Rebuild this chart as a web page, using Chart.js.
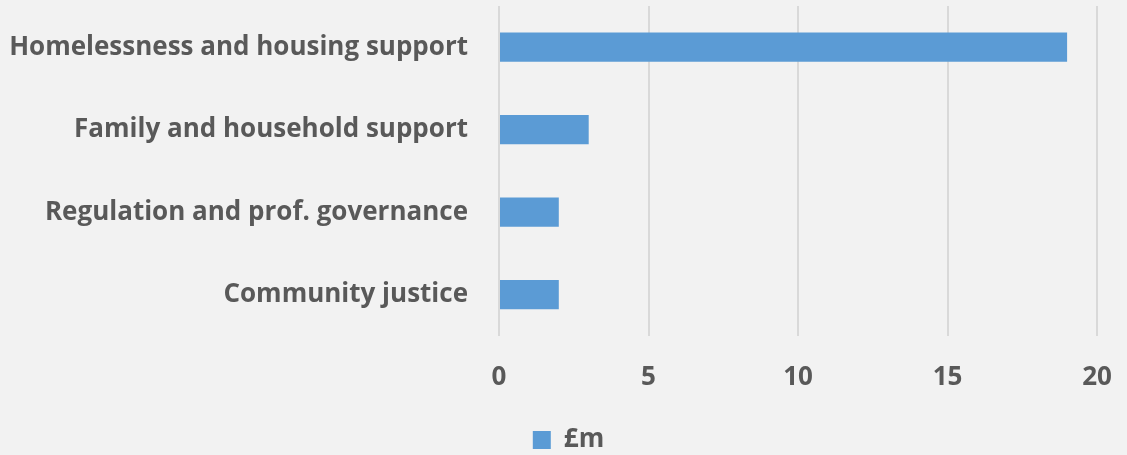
<!DOCTYPE html>
<html>
<head>
<meta charset="utf-8">
<script src="https://cdn.jsdelivr.net/npm/chart.js@4/dist/chart.umd.min.js"></script>
<style>
html,body{margin:0;padding:0;background:#f2f2f2;}
#wrap{width:1127px;height:455px;position:relative;}
</style>
</head>
<body>
<div id="wrap"><canvas id="c" width="1127" height="455"></canvas></div>
<script>
const categories = ["Homelessness and housing support", "Family and household support", "Regulation and prof. governance", "Community justice"];
const values = [19, 3, 2, 2];
const seriesName = "£m";
const xTicks = [0, 5, 10, 15, 20];

const bg = {
  id: 'bg',
  beforeDraw(chart) {
    const ctx = chart.ctx;
    ctx.save();
    ctx.fillStyle = '#f2f2f2';
    ctx.fillRect(0, 0, chart.width, chart.height);
    ctx.restore();
  }
};

const FONT = "'Open Sans', sans-serif";
const TXT = '#595959';

new Chart(document.getElementById('c'), {
  type: 'bar',
  data: {
    labels: categories,
    datasets: [{
      label: seriesName,
      data: values,
      backgroundColor: '#5b9bd5',
      borderWidth: 0,
      categoryPercentage: 1,
      barPercentage: 0.355
    }]
  },
  options: {
    indexAxis: 'y',
    responsive: false,
    animation: false,
    devicePixelRatio: 1,
    layout: { padding: { top: 6, right: 0, left: 10, bottom: -8 } },
    plugins: {
      legend: {
        position: 'bottom',
        labels: {
          boxWidth: 18, boxHeight: 18,
          color: TXT,
          font: { family: FONT, size: 26, weight: 'bold' },
          padding: 2
        }
      },
      tooltip: { enabled: false }
    },
    scales: {
      x: {
        min: 0, max: 20,
        afterBuildTicks(scale) { scale.ticks = xTicks.map(v => ({ value: v })); },
        afterFit(scale) { scale.paddingRight = 30; scale.height = scale.height + 6; },
        ticks: { color: TXT, font: { family: FONT, size: 26, weight: 'bold' }, padding: 26 },
        grid: { color: '#d9d9d9', lineWidth: 2, drawTicks: false },
        border: { display: false }
      },
      y: {
        afterFit(scale) { scale.width = 489; scale.paddingTop = 0; scale.paddingBottom = 0; },
        ticks: { color: TXT, font: { family: FONT, size: 26, weight: 'bold' }, padding: 31 },
        grid: { display: false, drawTicks: false },
        border: { display: false }
      }
    }
  },
  plugins: [bg]
});
</script>
</body>
</html>
